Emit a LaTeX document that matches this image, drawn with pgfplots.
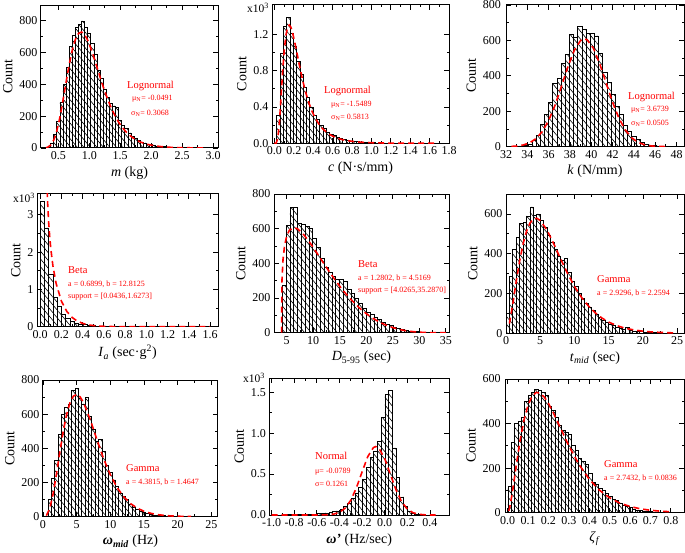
\documentclass[border=0pt]{standalone}
\usepackage{fontspec}
\setmainfont{Liberation Serif}
\usepackage{pgfplots}
\pgfplotsset{compat=1.18}
\usetikzlibrary{patterns.meta}
\pgfplotsset{
  panel/.style={
    scale only axis, anchor=south west, ymin=0,
    axis line style={line width=1pt},
    tick align=inside, tick pos=both,
    xticklabel pos=lower, yticklabel pos=left,
    major tick length=5pt, minor tick length=2.5pt,
    tick style={black, line width=0.8pt},
    minor x tick num=1, minor y tick num=1,
    tick label style={font=\fontsize{12}{12}\selectfont},
    label style={font=\fontsize{14}{14}\selectfont},
    /pgf/number format/assume math mode=true,
    /pgf/number format/1000 sep={},
    scaled ticks=false,
    ylabel={Count},
  },
  dec1x/.style={xticklabel style={/pgf/number format/.cd,fixed,fixed zerofill,precision=1}},
  dec1y/.style={yticklabel style={/pgf/number format/.cd,fixed,fixed zerofill,precision=1}},
  hist/.style={ybar, bar shift=0pt, draw=black, line width=0.75pt,
    pattern={Lines[angle=-50,distance=5pt,line width=0.6pt]}},
  fitc/.style={red, line width=1.6pt, dash pattern=on 6pt off 4pt},
}
\tikzset{
  hd/.style={anchor=west, text=red, inner sep=0pt, font=\fontsize{10.5}{12}\selectfont},
  pr/.style={anchor=west, text=red, inner sep=0pt, font=\fontsize{8}{9}\selectfont},
  sc/.style={anchor=west, inner sep=0pt, font=\fontsize{11.5}{12}\selectfont},
}
\begin{document}
\begin{tikzpicture}
\useasboundingbox (0,0) rectangle (685pt,-553pt);

% ---------- P1: m ----------
\begin{axis}[panel, dec1x, at={(41pt,-148pt)}, width=177pt, height=143pt,
  xmin=0.22, xmax=3.08, ymax=900,
  xtick={0.5,1,1.5,2,2.5,3}, ytick={0,200,400,600,800},
  xlabel={\textit{m} (kg)}]
\addplot[hist, bar width=0.05] coordinates {(0.35,6)(0.40,28)(0.45,85)(0.50,170)(0.55,290)(0.60,400)(0.65,510)(0.70,640)(0.75,710)(0.80,760)(0.85,775)(0.90,800)(0.95,760)(1.00,720)(1.05,660)(1.10,590)(1.15,490)(1.20,440)(1.25,370)(1.30,320)(1.35,280)(1.40,265)(1.45,255)(1.50,175)(1.55,140)(1.60,125)(1.65,95)(1.70,72)(1.75,58)(1.80,45)(1.85,38)(1.90,32)(1.95,25)(2.00,20)(2.05,16)(2.10,12)(2.15,9)(2.20,8)(2.25,6)(2.30,5)(2.35,4)(2.40,3)(2.45,3)(2.50,2)(2.55,2)(2.60,1)(2.65,1)(2.70,1)(2.80,1)(2.85,1)};
\addplot[fitc] coordinates {(0.30,1.9)(0.325,4.4)(0.375,17.6)(0.425,49)(0.475,107)(0.525,192)(0.575,299)(0.625,414)(0.675,524)(0.725,616)(0.775,683)(0.825,721)(0.875,730)(0.925,714)(0.975,678)(1.025,628)(1.075,570)(1.125,508)(1.175,446)(1.225,386)(1.275,331)(1.325,280)(1.375,235)(1.425,196)(1.475,162)(1.525,134)(1.575,110)(1.625,89)(1.675,73)(1.725,59)(1.775,48)(1.825,38)(1.875,31)(1.925,25)(1.975,20)(2.075,13)(2.175,8)(2.275,5)(2.375,3.3)(2.5,2)(2.7,0.8)(2.9,0.3)};
\end{axis}

% ---------- P2: c ----------
\begin{axis}[panel, dec1x, dec1y, at={(272pt,-143.3pt)}, width=177pt, height=138.3pt,
  xmin=-0.025, xmax=1.8, ymax=1.52,
  xtick={0,0.2,0.4,0.6,0.8,1,1.2,1.4,1.6,1.8}, ytick={0,0.4,0.8,1.2},
  xlabel={\textit{c} (N·s/mm)}]
\addplot[hist, bar width=0.034] coordinates {(0.042,0.31)(0.076,0.99)(0.110,1.29)(0.144,1.38)(0.178,1.21)(0.212,1.07)(0.246,0.90)(0.280,0.76)(0.314,0.62)(0.348,0.50)(0.382,0.40)(0.416,0.31)(0.450,0.26)(0.484,0.20)(0.518,0.16)(0.552,0.12)(0.586,0.10)(0.620,0.085)(0.654,0.06)(0.688,0.05)(0.722,0.04)(0.756,0.03)(0.790,0.025)(0.824,0.02)(0.858,0.016)(0.892,0.012)(0.926,0.01)(0.960,0.008)(0.994,0.007)(1.028,0.005)(1.062,0.004)(1.096,0.004)(1.130,0.003)(1.164,0.002)(1.198,0.002)(1.232,0.002)(1.266,0.001)(1.300,0.001)(1.334,0.001)(1.368,0.001)(1.436,0.001)(1.538,0.001)(1.606,0.001)};
\addplot[fitc] coordinates {(0.0,0)(0.017,0.001)(0.034,0.048)(0.051,0.225)(0.068,0.503)(0.085,0.793)(0.102,1.031)(0.119,1.191)(0.136,1.278)(0.153,1.300)(0.170,1.275)(0.187,1.218)(0.221,1.053)(0.255,0.871)(0.289,0.702)(0.323,0.557)(0.357,0.439)(0.391,0.344)(0.425,0.270)(0.459,0.211)(0.493,0.166)(0.527,0.131)(0.561,0.103)(0.595,0.082)(0.629,0.065)(0.663,0.052)(0.697,0.041)(0.731,0.033)(0.799,0.022)(0.867,0.014)(0.935,0.0097)(1.003,0.0066)(1.071,0.0045)(1.2,0.002)(1.4,0.0008)(1.65,0.0003)};
\end{axis}

% ---------- P3: k ----------
\begin{axis}[panel, at={(506pt,-146.7pt)}, width=178pt, height=141.7pt,
  xmin=32, xmax=48.7, ymax=800,
  xtick={32,34,36,38,40,42,44,46,48}, ytick={0,200,400,600,800},
  yticklabel style={xshift=-1.5pt},
  xlabel={\textit{k} (N/mm)}]
\addplot[hist, bar width=0.39] coordinates {(32.69,1)(33.08,2)(33.47,4)(33.86,8)(34.25,15)(34.64,35)(35.03,65)(35.42,125)(35.81,180)(36.20,250)(36.59,355)(36.98,385)(37.37,470)(37.76,520)(38.15,635)(38.54,620)(38.93,680)(39.32,660)(39.71,640)(40.10,640)(40.49,625)(40.88,525)(41.27,420)(41.66,365)(42.05,295)(42.44,225)(42.83,180)(43.22,118)(43.61,85)(44.00,56)(44.39,40)(44.78,25)(45.17,15)(45.56,10)(45.95,6)(46.34,4)(46.73,2)(47.12,1)(47.51,1)};
\addplot[fitc] coordinates {(32.5,1.6)(33.0,3.7)(33.6,9.4)(34.2,21)(34.8,45)(35.4,85)(36.0,148)(36.6,234)(37.2,340)(37.8,450)(38.4,543)(39.0,600)(39.3,609)(39.6,604)(40.2,556)(40.8,467)(41.4,358)(42.0,251)(42.6,160)(43.2,94)(43.8,50)(44.4,24)(45.0,11)(45.6,4.5)(46.2,2)(47.0,0.5)};
\end{axis}

% ---------- P4: Ia ----------
\begin{axis}[panel, dec1x, at={(37pt,-326.7pt)}, width=181pt, height=132.7pt,
  xmin=-0.03, xmax=1.675, ymax=3.56,
  xtick={0,0.2,0.4,0.6,0.8,1,1.2,1.4,1.6}, ytick={0,1,2,3},
  xlabel={\textit{I}\textsubscript{\textit{a}} (sec·g\textsuperscript{2})}]
\addplot[hist, bar width=0.04] coordinates {(0.02,3.35)(0.06,2.65)(0.10,1.40)(0.14,0.79)(0.18,0.54)(0.22,0.32)(0.26,0.22)(0.30,0.14)(0.34,0.10)(0.38,0.07)(0.42,0.05)(0.46,0.035)(0.50,0.025)(0.54,0.018)(0.58,0.012)(0.62,0.009)(0.66,0.006)(0.70,0.004)(0.74,0.003)(0.78,0.002)(0.82,0.002)(0.86,0.001)(0.90,0.001)};
\addplot[fitc] coordinates {(0.0436,9)(0.05,6.0)(0.06,4.16)(0.07,3.33)(0.08,2.79)(0.09,2.40)(0.10,2.09)(0.12,1.63)(0.15,1.16)(0.20,0.685)(0.25,0.413)(0.30,0.249)(0.35,0.150)(0.40,0.089)(0.45,0.052)(0.50,0.030)(0.60,0.0095)(0.70,0.0027)(0.80,0.0007)(1.0,0)(1.6,0)};
\end{axis}

% ---------- P5: D5-95 ----------
\begin{axis}[panel, at={(274pt,-332.7pt)}, width=175pt, height=138.7pt,
  xmin=2.6, xmax=35.6, ymax=800,
  xtick={5,10,15,20,25,30,35}, ytick={0,200,400,600,800},
  xlabel={\textit{D}\textsubscript{5-95} (sec)}]
\addplot[hist, bar width=0.72] coordinates {(4.53,275)(5.25,620)(5.97,725)(6.69,720)(7.41,630)(8.13,625)(8.85,615)(9.57,600)(10.29,545)(11.01,490)(11.73,430)(12.45,375)(13.17,350)(13.89,325)(14.61,305)(15.33,310)(16.05,295)(16.77,250)(17.49,225)(18.21,200)(18.93,170)(19.65,140)(20.37,120)(21.09,105)(21.81,90)(22.53,75)(23.25,62)(23.97,50)(24.69,40)(25.41,32)(26.13,25)(26.85,18)(27.57,14)(28.29,10)(29.01,8)(29.73,5)(30.45,4)(31.17,3)(31.89,2)(32.61,1)(33.33,1)(34.05,1)(34.77,1)};
\addplot[fitc] coordinates {(4.03,0)(4.1,300)(4.3,423)(4.6,503)(5.0,558)(5.5,591)(6.3,606)(7.0,600)(8,573)(9,535)(10,492)(11,445)(12,399)(13,353)(14,310)(15,268)(16,230)(17,195)(18,164)(19,135)(20,110)(21,88)(22,70)(23,54)(24,40)(25,29.5)(26,21)(27,14)(28,9)(29,5.5)(30,3)(31,1.4)(32,0.6)(33,0.2)(35,0)};
\end{axis}

% ---------- P6: t_mid ----------
\begin{axis}[panel, at={(506pt,-333.3pt)}, width=178pt, height=139.3pt,
  xmin=0, xmax=26, ymax=700,
  xtick={0,5,10,15,20,25}, ytick={0,200,400,600},
  xlabel={\textit{t}\textsubscript{\textit{mid}} (sec)}]
\addplot[hist, bar width=0.5] coordinates {(0.25,100)(0.75,285)(1.25,420)(1.75,480)(2.25,550)(2.75,555)(3.25,590)(3.75,635)(4.25,595)(4.75,600)(5.25,565)(5.75,530)(6.25,490)(6.75,455)(7.25,420)(7.75,385)(8.25,365)(8.75,375)(9.25,305)(9.75,260)(10.25,235)(10.75,200)(11.25,175)(11.75,150)(12.25,130)(12.75,115)(13.25,95)(13.75,80)(14.25,65)(14.75,55)(15.25,45)(15.75,40)(16.25,32)(16.75,25)(17.25,20)(17.75,28)(18.25,15)(18.75,12)(19.25,10)(19.75,8)(20.25,6)(20.75,5)(21.25,6)(21.75,3)(22.25,2)(22.75,2)(23.25,1)(23.75,1)(24.25,1)};
\addplot[fitc] coordinates {(0.5,49)(1,149)(1.5,262)(2,365)(2.5,450)(3,513)(3.5,554)(4,574)(4.5,578)(5,567)(6,518)(7,448)(8,372)(9,300)(10,236)(11,182)(12,139)(13,104)(14,77)(15,56.5)(16,41)(17,29.7)(18,21.3)(19,15.2)(20,10.8)(21,7.6)(22,5.3)(23,3.7)(24,2.6)(25,1.8)};
\end{axis}

% ---------- P7: omega_mid ----------
\begin{axis}[panel, at={(43pt,-516.7pt)}, width=175pt, height=136.7pt,
  xmin=0, xmax=26, ymax=800,
  xtick={0,5,10,15,20,25}, ytick={0,200,400,600,800},
  xlabel={\textbf{\textit{ω}}\textsubscript{\textbf{\textit{mid}}} (Hz)}]
\addplot[hist, bar width=0.5] coordinates {(1.0,100)(1.5,225)(2.0,330)(2.5,480)(3.0,600)(3.5,640)(4.0,660)(4.5,740)(5.0,750)(5.5,690)(6.0,660)(6.5,700)(7.0,590)(7.5,510)(8.0,440)(8.5,450)(9.0,380)(9.5,300)(10.0,260)(10.5,215)(11.0,180)(11.5,135)(12.0,120)(12.5,100)(13.0,75)(13.5,55)(14.0,42)(14.5,32)(15.0,25)(15.5,17)(16.0,13)(16.5,10)(17.0,8)(17.5,6)(18.0,5)(18.5,3)(19.0,2)(19.5,2)(20.0,1)(20.5,1)(21.0,1)(22.0,1)};
\addplot[fitc] coordinates {(0.5,6.4)(1,47.5)(1.5,133)(2,250)(2.5,378)(3,498)(3.5,597)(4,666)(4.5,705)(5,716)(5.5,702)(6,670)(7,570)(8,452)(9,340)(10,246)(11,171)(12,116)(13,77)(14,50)(15,32)(16,20)(17,12.4)(18,7.6)(19,4.6)(20,2.8)(21,1.7)(22,1)};
\end{axis}

% ---------- P8: omega' ----------
\begin{axis}[panel, dec1x, dec1y, at={(269.3pt,-515pt)}, width=179.7pt, height=136.7pt,
  xmin=-1.02, xmax=0.568, ymax=1.67,
  xtick={-1,-0.8,-0.6,-0.4,-0.2,0,0.2,0.4}, ytick={0,0.5,1,1.5},
  xlabel={\textbf{\textit{ω'}} (Hz/sec)}]
\addplot[hist, bar width=0.033] coordinates {(-0.972,0.001)(-0.939,0.001)(-0.906,0.001)(-0.873,0.001)(-0.840,0.002)(-0.807,0.002)(-0.774,0.003)(-0.741,0.004)(-0.708,0.005)(-0.675,0.006)(-0.642,0.008)(-0.609,0.011)(-0.576,0.015)(-0.543,0.02)(-0.510,0.025)(-0.477,0.03)(-0.444,0.04)(-0.411,0.05)(-0.378,0.07)(-0.345,0.10)(-0.312,0.14)(-0.279,0.20)(-0.246,0.26)(-0.213,0.34)(-0.180,0.44)(-0.147,0.58)(-0.114,0.70)(-0.081,0.78)(-0.048,0.90)(-0.015,1.19)(0.018,1.47)(0.051,1.52)(0.084,0.82)(0.117,0.46)(0.150,0.22)(0.183,0.10)(0.216,0.05)(0.249,0.02)(0.282,0.01)(0.315,0.004)};
\addplot[fitc] coordinates {(-1.0,0)(-0.6,0.0002)(-0.55,0.0008)(-0.5,0.0032)(-0.45,0.011)(-0.4,0.033)(-0.35,0.083)(-0.3,0.180)(-0.25,0.333)(-0.2,0.527)(-0.15,0.713)(-0.1,0.824)(-0.079,0.836)(-0.05,0.814)(0.0,0.687)(0.05,0.496)(0.1,0.306)(0.15,0.161)(0.2,0.072)(0.25,0.028)(0.3,0.009)(0.35,0.0026)(0.4,0.0006)(0.45,0)};
\end{axis}

% ---------- P9: zeta_f ----------
\begin{axis}[panel, dec1x, at={(505.7pt,-512.7pt)}, width=178.3pt, height=133.7pt,
  xmin=-0.01, xmax=0.865, ymax=600,
  xtick={0,0.1,0.2,0.3,0.4,0.5,0.6,0.7,0.8}, ytick={0,200,400,600},
  yticklabel style={xshift=-1.5pt},
  xlabel={\textit{ζ}\textsubscript{\textit{f}}}]
\addplot[hist, bar width=0.0165] coordinates {(0.009,118)(0.0255,315)(0.042,400)(0.0585,410)(0.075,430)(0.0915,500)(0.108,525)(0.1245,540)(0.141,552)(0.1575,550)(0.174,540)(0.1905,525)(0.207,475)(0.2235,460)(0.24,430)(0.2565,390)(0.273,370)(0.2895,360)(0.306,350)(0.3225,300)(0.339,280)(0.3555,245)(0.372,230)(0.3885,215)(0.405,175)(0.4215,135)(0.438,125)(0.4545,110)(0.471,100)(0.4875,85)(0.504,72)(0.5205,60)(0.537,55)(0.5535,42)(0.57,35)(0.5865,28)(0.603,22)(0.6195,15)(0.636,12)(0.6525,10)(0.669,7)(0.6855,5)(0.702,4)(0.7185,3)(0.735,3)(0.7515,3)(0.768,1)(0.7845,1)(0.801,1)(0.8175,1)};
\addplot[fitc] coordinates {(0.005,8)(0.01,25.6)(0.02,76)(0.03,137)(0.04,201)(0.05,263)(0.06,321)(0.08,417)(0.10,484)(0.12,524)(0.14,540)(0.16,536)(0.18,518)(0.20,490)(0.22,456)(0.25,397)(0.30,300)(0.35,216)(0.40,150)(0.45,101)(0.50,67)(0.55,43)(0.60,28)(0.65,17.6)(0.70,11)(0.75,6.8)(0.80,4.2)};
\end{axis}

% ---------- annotations ----------
\node[hd] at (127pt,-86pt) {Lognormal};
\node[pr] at (132pt,-99pt) {μ\textsubscript{N}= -0.0491};
\node[pr] at (131pt,-113pt) {σ\textsubscript{N}= 0.3068};
\node[hd] at (324pt,-91pt) {Lognormal};
\node[pr] at (331pt,-105pt) {μ\textsubscript{N}= -1.5489};
\node[pr] at (331pt,-117pt) {σ\textsubscript{N}= 0.5813};
\node[hd] at (628pt,-97pt) {Lognormal};
\node[pr] at (631pt,-110pt) {μ\textsubscript{N}= 3.6739};
\node[pr] at (631pt,-123pt) {σ\textsubscript{N}= 0.0505};
\node[hd] at (68pt,-270pt) {Beta};
\node[pr] at (68pt,-284pt) {a = 0.6899, b = 12.8125};
\node[pr] at (68pt,-297pt) {support = [0.0436,1.6273]};
\node[hd] at (358pt,-264pt) {Beta};
\node[pr] at (358pt,-278pt) {a = 1.2802, b = 4.5169};
\node[pr] at (358pt,-291pt) {support = [4.0265,35.2870]};
\node[hd] at (597pt,-279pt) {Gamma};
\node[pr] at (597pt,-293pt) {a = 2.9296, b = 2.2594};
\node[hd] at (126pt,-468pt) {Gamma};
\node[pr] at (126pt,-482pt) {a = 4.3815, b = 1.4647};
\node[hd] at (315pt,-456pt) {Normal};
\node[pr] at (315pt,-472pt) {μ= -0.0789};
\node[pr] at (315pt,-484pt) {σ= 0.1261};
\node[hd] at (604pt,-464pt) {Gamma};
\node[pr] at (604pt,-478pt) {a = 2.7432, b = 0.0836};
\node[sc] at (247pt,-8pt) {x10\textsuperscript{3}};
\node[sc] at (13pt,-198pt) {x10\textsuperscript{3}};
\node[sc] at (243pt,-378pt) {x10\textsuperscript{3}};
\end{tikzpicture}
\end{document}
